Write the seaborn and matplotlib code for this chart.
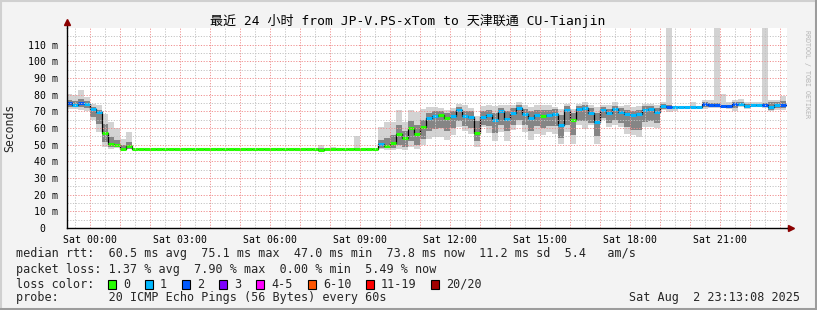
import numpy as np
import pandas as pd
import matplotlib
matplotlib.use("Agg")
import matplotlib.pyplot as plt
import matplotlib.dates as mdates
import seaborn as sns
from matplotlib.patches import Rectangle
from matplotlib.lines import Line2D

# ---------------- data (12-minute RRD steps) ----------------
step_times = pd.date_range("2025-08-01 23:12", "2025-08-02 23:00", freq="12min")
window_start = pd.Timestamp("2025-08-01 23:13:08")
window_end = pd.Timestamp("2025-08-02 23:13:08")

median_ms = [
    75.0, 74.1, 75.0, 74.3, 71.5, 69.7, 57.1, 50.7, 49.9, 47.5,
    49.1, 47.3, 47.3, 47.3, 47.3, 47.3, 47.3, 47.3, 47.3, 47.3,
    47.3, 47.3, 47.3, 47.3, 47.3, 47.3, 47.3, 47.3, 47.3, 47.3,
    47.3, 47.3, 47.3, 47.3, 47.3, 47.3, 47.3, 47.3, 47.3, 47.3,
    47.3, 47.3, 46.8, 47.3, 47.3, 47.3, 47.3, 47.3, 47.3, 47.3,
    47.3, 47.3, 50.5, 49.1, 51.1, 56.5, 54.1, 59.9, 56.5, 60.7,
    65.9, 67.2, 67.9, 65.9, 67.2, 70.7, 67.5, 66.7, 57.1, 66.7,
    67.9, 64.7, 70.2, 65.5, 69.0, 72.0, 68.4, 66.3, 67.9, 67.2,
    67.9, 68.4, 61.9, 70.9, 64.9, 71.5, 72.0, 69.0, 63.5, 70.8,
    69.0, 71.6, 69.6, 68.2, 67.7, 68.4, 70.9, 71.6, 69.6, 73.3,
    72.6, 72.6, 72.6, 72.6, 72.6, 72.6, 74.4, 73.7, 73.7, 73.2,
    73.2, 74.2, 74.6, 73.3, 73.8, 73.8, 73.8, 72.5, 73.8, 73.8,
]
loss_count = [
    2, 1, 2, 1, 1, 1, 0, 0, 0, 0,
    0, 0, 0, 0, 0, 0, 0, 0, 0, 0,
    0, 0, 0, 0, 0, 0, 0, 0, 0, 0,
    0, 0, 0, 0, 0, 0, 0, 0, 0, 0,
    0, 0, 0, 0, 0, 0, 0, 0, 0, 0,
    0, 0, 1, 0, 0, 0, 0, 0, 0, 0,
    1, 1, 0, 0, 1, 1, 1, 1, 0, 1,
    1, 1, 1, 1, 1, 1, 1, 1, 1, 0,
    1, 1, 1, 1, 0, 1, 1, 1, 1, 1,
    1, 1, 1, 1, 1, 1, 1, 1, 1, 1,
    2, 1, 1, 1, 1, 1, 2, 2, 2, 2,
    2, 2, 1, 1, 1, 1, 2, 1, 1, 2,
]
smoke_lo = [
    71.7, 71.7, 70.7, 70.2, 64.7, 57.7, 48.7, 47.7, 47.9, 46.7,
    47.7, 47.0, 47.0, 47.0, 47.0, 47.0, 47.0, 47.0, 47.0, 47.0,
    47.0, 47.0, 47.0, 47.0, 47.0, 47.0, 47.0, 47.0, 47.0, 47.0,
    47.0, 47.0, 47.0, 47.0, 47.0, 47.0, 47.0, 47.0, 47.0, 47.0,
    47.0, 47.0, 46.3, 47.0, 47.0, 47.0, 47.0, 47.0, 47.0, 47.0,
    47.0, 47.0, 47.7, 47.1, 47.1, 47.7, 47.1, 48.7, 47.7, 49.7,
    53.7, 54.7, 54.7, 52.7, 56.0, 60.7, 58.0, 56.5, 48.7, 60.7,
    57.0, 52.3, 57.5, 52.0, 58.7, 61.7, 57.7, 52.7, 56.7, 55.7,
    57.7, 56.7, 50.7, 57.7, 50.7, 61.7, 59.7, 61.7, 50.7, 64.7,
    60.7, 61.7, 60.7, 56.7, 55.7, 54.7, 60.7, 60.7, 60.3, 70.7,
    69.5, 70.5, 72.2, 72.2, 72.2, 72.2, 71.7, 72.0, 72.0, 72.0,
    71.5, 70.5, 72.5, 71.3, 72.5, 72.5, 72.3, 70.2, 70.8, 71.1,
]
smoke_q1 = [
    72.6, 72.8, 72.6, 71.8, 66.6, 62.7, 51.7, 48.7, 48.7, 47.1,
    47.7, 47.1, 47.1, 47.1, 47.1, 47.1, 47.1, 47.1, 47.1, 47.1,
    47.1, 47.1, 47.1, 47.1, 47.1, 47.1, 47.1, 47.1, 47.1, 47.1,
    47.1, 47.1, 47.1, 47.1, 47.1, 47.1, 47.1, 47.1, 47.1, 47.1,
    47.1, 47.1, 46.5, 47.1, 47.1, 47.1, 47.1, 47.1, 47.1, 47.1,
    47.1, 47.1, 48.2, 47.8, 48.0, 50.0, 48.5, 52.0, 50.0, 53.5,
    58.5, 59.5, 60.0, 58.0, 60.0, 64.0, 61.0, 60.0, 52.0, 62.0,
    61.0, 57.0, 62.0, 58.0, 62.0, 65.0, 62.0, 58.0, 61.0, 60.0,
    61.0, 61.0, 54.0, 62.0, 56.0, 64.0, 64.0, 63.0, 55.0, 66.0,
    63.0, 65.0, 63.0, 60.5, 59.0, 59.0, 63.5, 64.0, 63.0, 71.5,
    72.0, 72.2, 72.4, 72.4, 72.4, 72.4, 72.5, 72.5, 72.5, 72.5,
    72.3, 72.0, 73.5, 72.3, 73.0, 73.0, 73.0, 71.0, 72.0, 72.0,
]
smoke_q3 = [
    76.6, 76.0, 77.7, 76.5, 72.6, 70.7, 62.7, 54.7, 52.7, 49.7,
    51.7, 47.5, 47.5, 47.5, 47.5, 47.5, 47.5, 47.5, 47.5, 47.5,
    47.5, 47.5, 47.5, 47.5, 47.5, 47.5, 47.5, 47.5, 47.5, 47.5,
    47.5, 47.5, 47.5, 47.5, 47.5, 47.5, 47.5, 47.5, 47.5, 47.5,
    47.5, 47.5, 48.0, 47.5, 47.5, 47.5, 47.5, 47.5, 48.2, 47.5,
    47.5, 47.5, 53.0, 54.0, 56.0, 62.0, 58.5, 64.0, 62.0, 65.0,
    69.0, 70.0, 70.0, 69.0, 70.0, 72.5, 70.5, 70.0, 64.0, 70.0,
    71.0, 69.0, 72.0, 70.0, 72.0, 74.0, 71.5, 70.0, 71.0, 71.0,
    71.0, 71.5, 68.0, 73.0, 69.0, 73.5, 74.0, 72.0, 69.0, 72.5,
    71.5, 73.5, 72.0, 71.0, 70.5, 71.0, 73.0, 73.5, 72.0, 74.5,
    74.0, 73.0, 72.8, 72.8, 72.8, 72.8, 75.5, 75.0, 74.8, 74.0,
    74.0, 75.5, 75.5, 74.5, 74.5, 74.5, 75.0, 75.5, 75.5, 76.0,
]
smoke_hi = [
    80.2, 79.6, 83.0, 78.6, 74.7, 73.7, 68.7, 63.7, 59.9, 53.7,
    57.7, 47.8, 47.8, 47.8, 47.8, 47.8, 47.8, 47.8, 47.8, 47.8,
    47.8, 47.8, 47.8, 47.8, 47.8, 47.8, 47.8, 47.8, 47.8, 47.8,
    47.8, 47.8, 47.8, 47.8, 47.8, 47.8, 47.8, 47.8, 47.8, 47.8,
    47.8, 47.8, 49.7, 47.8, 48.7, 47.8, 47.8, 47.8, 55.3, 48.3,
    48.3, 47.8, 60.7, 63.7, 63.7, 70.7, 63.7, 71.1, 69.7, 71.7,
    72.7, 72.7, 72.0, 70.7, 72.0, 74.3, 73.7, 72.0, 67.0, 73.0,
    74.0, 73.0, 74.0, 73.7, 73.7, 75.6, 73.7, 72.7, 73.7, 73.7,
    73.7, 72.9, 71.7, 74.7, 71.7, 74.7, 75.7, 73.7, 72.9, 73.7,
    73.7, 75.6, 73.1, 73.7, 72.6, 73.1, 74.7, 74.7, 73.7, 75.6,
    125.0, 73.5, 73.0, 73.0, 75.5, 73.0, 76.6, 76.6, 125.0, 80.6,
    75.5, 77.0, 77.5, 75.8, 75.5, 75.5, 125.0, 77.0, 77.0, 79.0,
]

y_ticks = [0, 10, 20, 30, 40, 50, 60, 70, 80, 90, 100, 110]
y_tick_labels = ["0  ", "10 m", "20 m", "30 m", "40 m", "50 m", "60 m",
                 "70 m", "80 m", "90 m", "100 m", "110 m"]
x_tick_times = pd.date_range("2025-08-02 00:00", periods=8, freq="3h")

loss_labels = ["0", "1", "2", "3", "4-5", "6-10", "11-19", "20/20"]
loss_colors = ["#26ff00", "#00b8ff", "#0059ff", "#7e00ff",
               "#ff00ff", "#ff5500", "#ff0000", "#a10000"]

title = "最近 24 小时 from JP-V.PS-xTom to 天津联通 CU-Tianjin"
stat_rtt = "median rtt:  60.5 ms avg  75.1 ms max  47.0 ms min  73.8 ms now  11.2 ms sd  5.4   am/s"
stat_loss = "packet loss: 1.37 % avg  7.90 % max  0.00 % min  5.49 % now"
probe_txt = "probe:       20 ICMP Echo Pings (56 Bytes) every 60s"
date_txt = "Sat Aug  2 23:13:08 2025"

# ---------------- figure ----------------
sns.set_theme(style="white")
MONO = ["DejaVu Sans Mono", "Noto Sans CJK SC"]
plt.rcParams["font.family"] = MONO

W, H = 817, 310
fig = plt.figure(figsize=(W / 100, H / 100), dpi=100, facecolor="#f3f3f3")
ax = fig.add_axes([67 / W, 82 / H, 720 / W, 200 / H])
ax.set_facecolor("white")

starts = mdates.date2num(step_times.to_pydatetime())
ends = starts + 12 / 1440
edges = np.append(starts, ends[-1])


def ext(a):
    return np.append(a, a[-1])


ax.fill_between(edges, ext(smoke_lo), ext(smoke_hi), step="post",
                color="#d3d3d3", lw=0, zorder=1)
ax.fill_between(edges, ext(smoke_q1), ext(smoke_q3), step="post",
                color="#858585", lw=0, zorder=2)

df = pd.DataFrame({"t": edges, "rtt": ext(median_ms)})
sns.lineplot(data=df, x="t", y="rtt", ax=ax, drawstyle="steps-post",
             color="black", lw=0.9, estimator=None, sort=False, zorder=3)
ax.hlines(median_ms, starts, ends, colors=[loss_colors[c] for c in loss_count],
          lw=2.2, zorder=4)

# grid (drawn over the data, rrdtool style)
x0 = mdates.date2num(window_start.to_pydatetime())
x1 = mdates.date2num(window_end.to_pydatetime())
for t in pd.date_range("2025-08-01 23:30", "2025-08-02 23:00", freq="30min"):
    major = t.minute == 0
    ax.axvline(mdates.date2num(t.to_pydatetime()),
               color="#f09090" if major else "#c4c4c4",
               lw=0.7, ls=(0, (1.2, 1.6)), zorder=5)
for v in range(5, 120, 5):
    major = v % 10 == 0
    ax.axhline(v, color="#f09090" if major else "#c4c4c4",
               lw=0.7, ls=(0, (1.2, 1.6)), zorder=5)

ax.set_xlim(x0, x1)
ax.set_ylim(0, 120)
ax.set_xticks(mdates.date2num([t.to_pydatetime() for t in x_tick_times]))
ax.set_xticklabels([t.strftime("%a %H:%M") for t in x_tick_times])
ax.set_yticks(y_ticks)
ax.set_yticklabels(y_tick_labels)
ax.tick_params(axis="both", labelsize=7.1, length=2.5, width=0.8,
               colors="black", direction="out", pad=2.5)
ax.tick_params(axis="y", pad=4)
ax.set_xlabel("")
ax.set_ylabel("")
for s in ["top", "right"]:
    ax.spines[s].set_visible(False)
for s in ["left", "bottom"]:
    ax.spines[s].set_color("black")
    ax.spines[s].set_linewidth(1.0)
    ax.spines[s].set_zorder(6)

# axis arrows
ax.plot([1.0, 1.004], [0, 0], transform=ax.transAxes, color="black",
        lw=1.0, clip_on=False, zorder=6)
ax.plot([0, 0], [1.0, 1.03], transform=ax.transAxes, color="black",
        lw=1.0, clip_on=False, zorder=6)
ax.plot([1.006], [0], marker=">", ms=5, color="#8b0000", transform=ax.transAxes,
        clip_on=False, zorder=7)
ax.plot([0], [1.03], marker="^", ms=5, color="#8b0000", transform=ax.transAxes,
        clip_on=False, zorder=7)

# texts
def fx(px):
    return px / W


def fy(py):
    return 1 - py / H


fig.text(fx(408), fy(21), title, ha="center", va="center", fontsize=9.4,
         family=MONO, color="black")
fig.text(fx(10), fy(128), "Seconds", ha="center", va="center", rotation=90,
         fontsize=8.3, family=MONO)
fig.text(fx(807), fy(30), "RRDTOOL / TOBI OETIKER", ha="center", va="top",
         rotation=270, fontsize=4.8, color="#b4b4b4", family=MONO)

fs = 8.5
fig.text(fx(16), fy(254), stat_rtt, ha="left", va="center", fontsize=fs, family=MONO)
fig.text(fx(16), fy(269), stat_loss, ha="left", va="center", fontsize=fs, family=MONO)
fig.text(fx(16), fy(284), "loss color:", ha="left", va="center", fontsize=fs, family=MONO)
box_x = [108, 145, 182, 219, 256, 308, 366, 431]
for bx, lab, col in zip(box_x, loss_labels, loss_colors):
    fig.patches.append(Rectangle((fx(bx), fy(288.5)), 8 / W, 9 / H,
                                 transform=fig.transFigure, facecolor=col,
                                 edgecolor="black", lw=0.8, figure=fig))
    fig.text(fx(bx + 15), fy(284), lab, ha="left", va="center", fontsize=fs,
             family=MONO)
fig.text(fx(16), fy(298), probe_txt, ha="left", va="center", fontsize=fs, family=MONO)
fig.text(fx(800), fy(298), date_txt, ha="right", va="center", fontsize=fs, family=MONO)

# 3D frame
fig.add_artist(Line2D([0, 1], [1 - 1 / H, 1 - 1 / H], transform=fig.transFigure,
                      color="#d0d0d0", lw=1.5))
fig.add_artist(Line2D([1 / W, 1 / W], [0, 1], transform=fig.transFigure,
                      color="#d0d0d0", lw=1.5))
fig.add_artist(Line2D([0, 1], [1.5 / H, 1.5 / H], transform=fig.transFigure,
                      color="#9c9c9c", lw=2.2))
fig.add_artist(Line2D([1 - 1.5 / W, 1 - 1.5 / W], [0, 1], transform=fig.transFigure,
                      color="#9c9c9c", lw=2.2))

fig.savefig("out.png", dpi=100, facecolor=fig.get_facecolor())
